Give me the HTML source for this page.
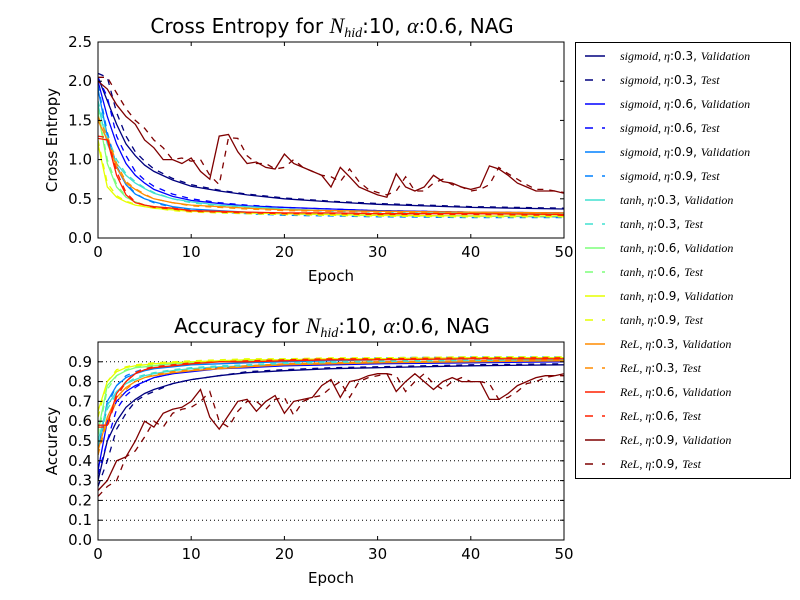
<!DOCTYPE html>
<html><head><meta charset="utf-8"><style>
body{margin:0;background:#fff;}
svg{display:block;font-family:"DejaVu Sans","Liberation Sans",sans-serif;}
</style></head><body>
<svg id="fig" width="800" height="600" viewBox="0 0 800 600">
<rect width="800" height="600" fill="#fff"/>
</svg>
<script>
const epochsSparse=[0,1,2,3,4,5,6,8,10,13,16,20,25,30,40,50];
const epochsFull=[0,1,2,3,4,5,6,7,8,9,10,11,12,13,14,15,16,17,18,19,20,21,22,23,24,25,26,27,28,29,30,31,32,33,34,35,36,37,38,39,40,41,42,43,44,45,46,47,48,49,50];
const xTicks=[0,10,20,30,40,50];
const ceTicks=[0.0,0.5,1.0,1.5,2.0,2.5];
const accTicks=[0.0,0.1,0.2,0.3,0.4,0.5,0.6,0.7,0.8,0.9];
// Cross entropy
const ceSig3V=[2.05,1.75,1.45,1.2,1.05,0.93,0.85,0.74,0.66,0.6,0.55,0.5,0.46,0.43,0.39,0.37];
const ceSig3T=[2.1,2.05,1.6,1.3,1.1,0.98,0.88,0.76,0.68,0.61,0.56,0.51,0.47,0.44,0.4,0.38];
const ceSig6V=[2.0,1.55,1.2,0.95,0.8,0.7,0.62,0.53,0.48,0.44,0.41,0.39,0.37,0.35,0.33,0.32];
const ceSig6T=[2.05,1.8,1.3,1.05,0.85,0.74,0.66,0.56,0.5,0.45,0.42,0.39,0.37,0.35,0.33,0.32];
const ceSig9V=[1.9,1.3,0.9,0.68,0.56,0.5,0.46,0.4,0.37,0.35,0.33,0.31,0.3,0.29,0.28,0.27];
const ceSig9T=[1.95,1.35,0.92,0.7,0.57,0.5,0.45,0.39,0.36,0.33,0.31,0.29,0.28,0.27,0.26,0.26];
const ceTan3V=[1.7,1.2,0.95,0.8,0.7,0.63,0.57,0.5,0.46,0.42,0.4,0.37,0.35,0.34,0.32,0.31];
const ceTan3T=[1.75,1.3,1.0,0.82,0.72,0.64,0.58,0.5,0.45,0.41,0.39,0.36,0.34,0.33,0.31,0.3];
const ceTan6V=[1.6,0.95,0.65,0.52,0.46,0.42,0.4,0.37,0.35,0.33,0.32,0.31,0.3,0.29,0.28,0.28];
const ceTan6T=[1.65,1.0,0.68,0.53,0.46,0.42,0.39,0.36,0.34,0.32,0.31,0.3,0.29,0.28,0.27,0.27];
const ceTan9V=[1.2,0.65,0.52,0.46,0.42,0.4,0.38,0.36,0.34,0.33,0.32,0.31,0.3,0.29,0.28,0.28];
const ceTan9T=[1.25,0.7,0.54,0.47,0.43,0.4,0.38,0.35,0.33,0.32,0.31,0.3,0.29,0.28,0.27,0.27];
const ceRel3V=[1.5,1.25,0.9,0.7,0.62,0.55,0.5,0.45,0.42,0.4,0.38,0.36,0.35,0.34,0.33,0.32];
const ceRel3T=[1.55,1.3,0.95,0.72,0.63,0.56,0.5,0.45,0.41,0.39,0.37,0.35,0.34,0.33,0.32,0.31];
const ceRel6V=[1.27,1.25,0.8,0.55,0.45,0.42,0.4,0.38,0.35,0.34,0.33,0.32,0.32,0.31,0.31,0.3];
const ceRel6T=[1.3,1.28,0.85,0.58,0.46,0.42,0.39,0.37,0.34,0.33,0.32,0.31,0.31,0.3,0.3,0.29];
const ceRel9V=[2.0,1.9,1.7,1.55,1.45,1.25,1.15,1.0,1.0,0.95,1.02,0.85,0.75,1.3,1.32,1.1,0.95,0.97,0.9,0.88,1.07,0.95,0.9,0.85,0.8,0.65,0.9,0.78,0.65,0.6,0.55,0.52,0.82,0.65,0.6,0.65,0.8,0.72,0.7,0.65,0.62,0.65,0.92,0.88,0.8,0.7,0.65,0.6,0.6,0.6,0.57];
const ceRel9T=[2.05,2.05,1.85,1.65,1.5,1.4,1.25,1.15,1.0,1.02,0.98,1.0,0.8,0.68,1.28,1.27,1.05,0.95,0.95,0.88,0.9,1.0,0.9,0.85,0.8,0.78,0.72,0.88,0.72,0.62,0.58,0.55,0.6,0.78,0.6,0.6,0.7,0.75,0.68,0.65,0.6,0.62,0.68,0.9,0.82,0.75,0.68,0.62,0.62,0.6,0.58];
// Accuracy
const acSig3V=[0.3,0.5,0.6,0.67,0.71,0.74,0.76,0.79,0.81,0.83,0.845,0.855,0.865,0.87,0.88,0.885];
const acSig3T=[0.27,0.4,0.56,0.64,0.7,0.73,0.75,0.79,0.81,0.83,0.85,0.86,0.87,0.875,0.885,0.89];
const acSig6V=[0.35,0.6,0.7,0.75,0.78,0.8,0.82,0.84,0.85,0.865,0.87,0.88,0.885,0.89,0.895,0.9];
const acSig6T=[0.33,0.5,0.66,0.73,0.77,0.8,0.82,0.84,0.855,0.87,0.875,0.885,0.89,0.895,0.9,0.905];
const acSig9V=[0.45,0.7,0.78,0.82,0.84,0.855,0.865,0.875,0.885,0.89,0.895,0.9,0.905,0.91,0.915,0.92];
const acSig9T=[0.43,0.68,0.78,0.83,0.85,0.865,0.875,0.885,0.895,0.9,0.905,0.91,0.915,0.92,0.925,0.925];
const acTan3V=[0.5,0.68,0.75,0.79,0.81,0.83,0.84,0.855,0.865,0.875,0.88,0.89,0.895,0.9,0.905,0.91];
const acTan3T=[0.48,0.66,0.74,0.79,0.82,0.835,0.845,0.86,0.87,0.88,0.885,0.895,0.9,0.905,0.91,0.915];
const acTan6V=[0.55,0.78,0.83,0.855,0.87,0.875,0.88,0.89,0.895,0.9,0.905,0.91,0.91,0.915,0.92,0.92];
const acTan6T=[0.53,0.76,0.83,0.86,0.875,0.88,0.885,0.895,0.9,0.905,0.91,0.915,0.915,0.92,0.925,0.925];
const acTan9V=[0.65,0.8,0.85,0.87,0.88,0.885,0.89,0.895,0.9,0.905,0.91,0.91,0.915,0.915,0.92,0.92];
const acTan9T=[0.62,0.8,0.86,0.875,0.885,0.89,0.895,0.9,0.905,0.91,0.915,0.915,0.92,0.92,0.925,0.925];
const acRel3V=[0.45,0.62,0.72,0.77,0.8,0.82,0.83,0.845,0.855,0.865,0.875,0.885,0.89,0.895,0.9,0.905];
const acRel3T=[0.43,0.6,0.7,0.76,0.8,0.82,0.835,0.85,0.86,0.87,0.88,0.89,0.895,0.9,0.905,0.91];
const acRel6V=[0.58,0.58,0.74,0.8,0.84,0.86,0.87,0.88,0.89,0.9,0.9,0.905,0.91,0.91,0.915,0.915];
const acRel6T=[0.57,0.57,0.72,0.8,0.845,0.865,0.875,0.885,0.895,0.9,0.905,0.91,0.915,0.915,0.92,0.92];
const acRel9V=[0.25,0.3,0.4,0.42,0.5,0.6,0.57,0.64,0.66,0.67,0.7,0.76,0.62,0.56,0.63,0.7,0.71,0.65,0.7,0.73,0.64,0.7,0.71,0.72,0.78,0.81,0.72,0.8,0.81,0.83,0.84,0.84,0.75,0.8,0.84,0.8,0.76,0.8,0.82,0.8,0.8,0.8,0.71,0.71,0.74,0.78,0.8,0.82,0.83,0.83,0.84];
const acRel9T=[0.22,0.27,0.3,0.42,0.45,0.52,0.6,0.57,0.64,0.66,0.67,0.7,0.75,0.6,0.57,0.65,0.7,0.7,0.66,0.71,0.72,0.63,0.7,0.72,0.73,0.77,0.8,0.72,0.8,0.82,0.83,0.84,0.83,0.75,0.8,0.84,0.79,0.76,0.8,0.82,0.8,0.8,0.79,0.71,0.72,0.75,0.79,0.8,0.82,0.83,0.83];

const colors=['#00007f','#0000ff','#0080ff','#40e0d0','#7dff7a','#e6ff00','#ff8c00','#ff2000','#7f0000'];
const labels=[['sigmoid','0.3'],['sigmoid','0.6'],['sigmoid','0.9'],['tanh','0.3'],['tanh','0.6'],['tanh','0.9'],['ReL','0.3'],['ReL','0.6'],['ReL','0.9']];
const ceV=[ceSig3V,ceSig6V,ceSig9V,ceTan3V,ceTan6V,ceTan9V,ceRel3V,ceRel6V,ceRel9V];
const ceT=[ceSig3T,ceSig6T,ceSig9T,ceTan3T,ceTan6T,ceTan9T,ceRel3T,ceRel6T,ceRel9T];
const acV=[acSig3V,acSig6V,acSig9V,acTan3V,acTan6V,acTan9V,acRel3V,acRel6V,acRel9V];
const acT=[acSig3T,acSig6T,acSig9T,acTan3T,acTan6T,acTan9T,acRel3T,acRel6T,acRel9T];

const NS='http://www.w3.org/2000/svg';
const svg=document.getElementById('fig');
function mk(tag,attrs,parent){const e=document.createElementNS(NS,tag);for(const k in attrs)e.setAttribute(k,attrs[k]);(parent||svg).appendChild(e);return e;}

const L=98,R=564;
function xs(v){return L+(v/50)*(R-L);}
function makeY(top,bot,max){return v=>bot-(v/max)*(bot-top);}
const SERIF='font-family="Liberation Serif,serif" font-style="italic"';

function drawAxes(name,top,bot,max,yTicks,grid,vals,tests,ylab,title){
  const ys=makeY(top,bot,max);
  const g=mk('g',{});
  
  
  if(grid){yTicks.forEach(t=>{if(t>0){const gl=mk('line',{x1:L,x2:R,y1:ys(t),y2:ys(t),stroke:'#000','stroke-width':1,'stroke-dasharray':'1,3'},g);
    
    }});}
  const cid='clip-'+name;
  const cp=mk('clipPath',{id:cid},g);mk('rect',{x:L,y:top,width:R-L,height:bot-top},cp);
  const lg=mk('g',{'clip-path':'url(#'+cid+')'},g);
  for(let i=0;i<9;i++){
    [[vals[i],''],[tests[i],'6,6']].forEach(([arr,d],j)=>{
      const ex=arr.length===epochsFull.length?epochsFull:epochsSparse;
      const pts=arr.map((v,k)=>xs(ex[k]).toFixed(1)+','+ys(v).toFixed(1)).join(' ');
      const p=mk('polyline',{points:pts,fill:'none',stroke:colors[i],'stroke-width':1.3,'stroke-dasharray':d},lg);
      
      
    });
  }
  mk('rect',{x:L,y:top,width:R-L,height:bot-top,fill:'none',stroke:'#000','stroke-width':1},g);
  xTicks.forEach(t=>{const x=xs(t);
    mk('line',{x1:x,x2:x,y1:bot,y2:bot-4,stroke:'#000'},g);mk('line',{x1:x,x2:x,y1:top,y2:top+4,stroke:'#000'},g);
    const tx=mk('text',{x:x,y:bot+19,'font-size':15,'text-anchor':'middle'},g);tx.textContent=t;
    
    });
  yTicks.forEach(t=>{const y=ys(t);
    mk('line',{x1:L,x2:L+4,y1:y,y2:y,stroke:'#000'},g);mk('line',{x1:R,x2:R-4,y1:y,y2:y,stroke:'#000'},g);
    const tx=mk('text',{x:L-6,y:y+5,'font-size':15,'text-anchor':'end'},g);tx.textContent=t.toFixed(1);
    
    });
  const xl=mk('text',{x:(L+R)/2,y:bot+43,'font-size':15,'text-anchor':'middle'},g);xl.textContent='Epoch';
  
  
  const yl=mk('text',{x:0,y:0,'font-size':15,'text-anchor':'middle',transform:'translate(57,'+((top+bot)/2)+') rotate(-90)'},g);yl.textContent=ylab;
  
  
  const tt=mk('text',{x:(L+R)/2+1,y:top-9,'font-size':20,'text-anchor':'middle'},g);
  tt.innerHTML=title+' for <tspan '+SERIF+' font-size="22">N</tspan><tspan '+SERIF+' font-size="14" dy="4">hid</tspan><tspan dy="-4">:10, </tspan><tspan '+SERIF+' font-size="22">α</tspan>:0.6, NAG';
  
  
}
drawAxes('cross-entropy',42,238,2.5,ceTicks,false,ceV,ceT,'Cross Entropy','Cross Entropy');
drawAxes('accuracy',342,540,1.0,accTicks,true,acV,acT,'Accuracy','Accuracy');

// legend
const lg=mk('g',{});


mk('rect',{x:575.5,y:42.5,width:215,height:436,fill:'#fff',stroke:'#000'},lg);
for(let i=0;i<9;i++){
  for(let j=0;j<2;j++){
    const y=56+(i*2+j)*24;
    const e=mk('g',{},lg);
    
    
    mk('line',{x1:585,x2:605,y1:y,y2:y,stroke:colors[i],'stroke-width':1.5,'stroke-dasharray':j?'8,9':''},e);
    const t=mk('text',{x:620,y:y+4,'font-size':12},e);
    t.innerHTML='<tspan '+SERIF+'>'+labels[i][0]+', η</tspan>:'+labels[i][1]+', <tspan '+SERIF+'>'+(j?'Test':'Validation')+'</tspan>';
  }
}
</script>
</body></html>
